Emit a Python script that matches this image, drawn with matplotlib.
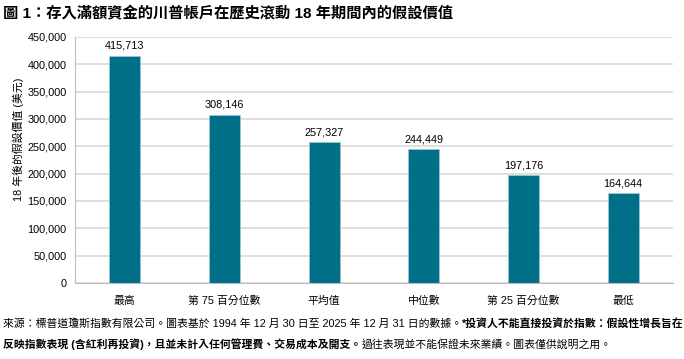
import numpy as np
import matplotlib.pyplot as plt
from matplotlib.ticker import FuncFormatter

plt.rcParams['font.family'] = ['Liberation Sans', 'Noto Sans CJK TC', 'DejaVu Sans']

categories = ['最高', '第 75 百分位數', '平均值', '中位數', '第 25 百分位數', '最低']
values = [415713, 308146, 257327, 244449, 197176, 164644]

title = '圖 1：存入滿額資金的川普帳戶在歷史滾動 18 年期間內的假設價值'
ylabel = '18 年後的假設價值 (美元)'
note1_a = '來源：標普道瓊斯指數有限公司。圖表基於 1994 年 12 月 30 日至 2025 年 12 月 31 日的數據。'
note1_b = '*投資人不能直接投資於指數：假設性增長旨在'
note2_a = '反映指數表現 (含紅利再投資)，且並未計入任何管理費、交易成本及開支。'
note2_b = '過往表現並不能保證未來業績。圖表僅供說明之用。'

bar_color = '#006F88'

fig = plt.figure(figsize=(6.84, 3.59), dpi=100)
ax = fig.add_axes([75 / 684, 1 - 283 / 359, 598 / 684, 246 / 359])

x = np.arange(len(categories))
ax.bar(x, values, width=0.31, color=bar_color, edgecolor='#9FC9D6', linewidth=0.5, zorder=3)
for xi, v in zip(x, values):
    ax.text(xi, v + 9000, f'{v:,}', ha='center', va='bottom', fontsize=7.8)

ax.set_xlim(-0.5, len(categories) - 0.5)
ax.set_ylim(0, 450000)
ax.set_yticks(np.arange(0, 450001, 50000))
ax.yaxis.set_major_formatter(FuncFormatter(lambda v, p: f'{int(v):,}'))
ax.set_xticks(x)
ax.set_xticklabels(categories)
ax.tick_params(axis='both', length=0, labelsize=7.8, pad=6)
ax.tick_params(axis='x', pad=9)
ax.grid(axis='y', color='#D9D9D9', linewidth=1.2, zorder=0)
for s in ['top', 'right']:
    ax.spines[s].set_visible(False)
for s in ['left', 'bottom']:
    ax.spines[s].set_color('#BFBFBF')
ax.set_ylabel(ylabel, fontsize=7.8)
ax.yaxis.set_label_coords(-0.086, 0.585)

fig.text(3 / 684, 1 - 14 / 359, title, fontsize=11, fontweight='bold', va='center')

t1 = fig.text(3 / 684, 1 - 323 / 359, note1_a, fontsize=7.8, va='center')
ax.annotate(note1_b, xy=(1, 0.5), xycoords=t1, va='center', fontsize=7.8, fontweight='bold',
            annotation_clip=False)
t2 = fig.text(3 / 684, 1 - 344 / 359, note2_a, fontsize=7.8, va='center', fontweight='bold')
ax.annotate(note2_b, xy=(1, 0.5), xycoords=t2, va='center', fontsize=7.8,
            annotation_clip=False)

fig.savefig('out.png', dpi=100)
